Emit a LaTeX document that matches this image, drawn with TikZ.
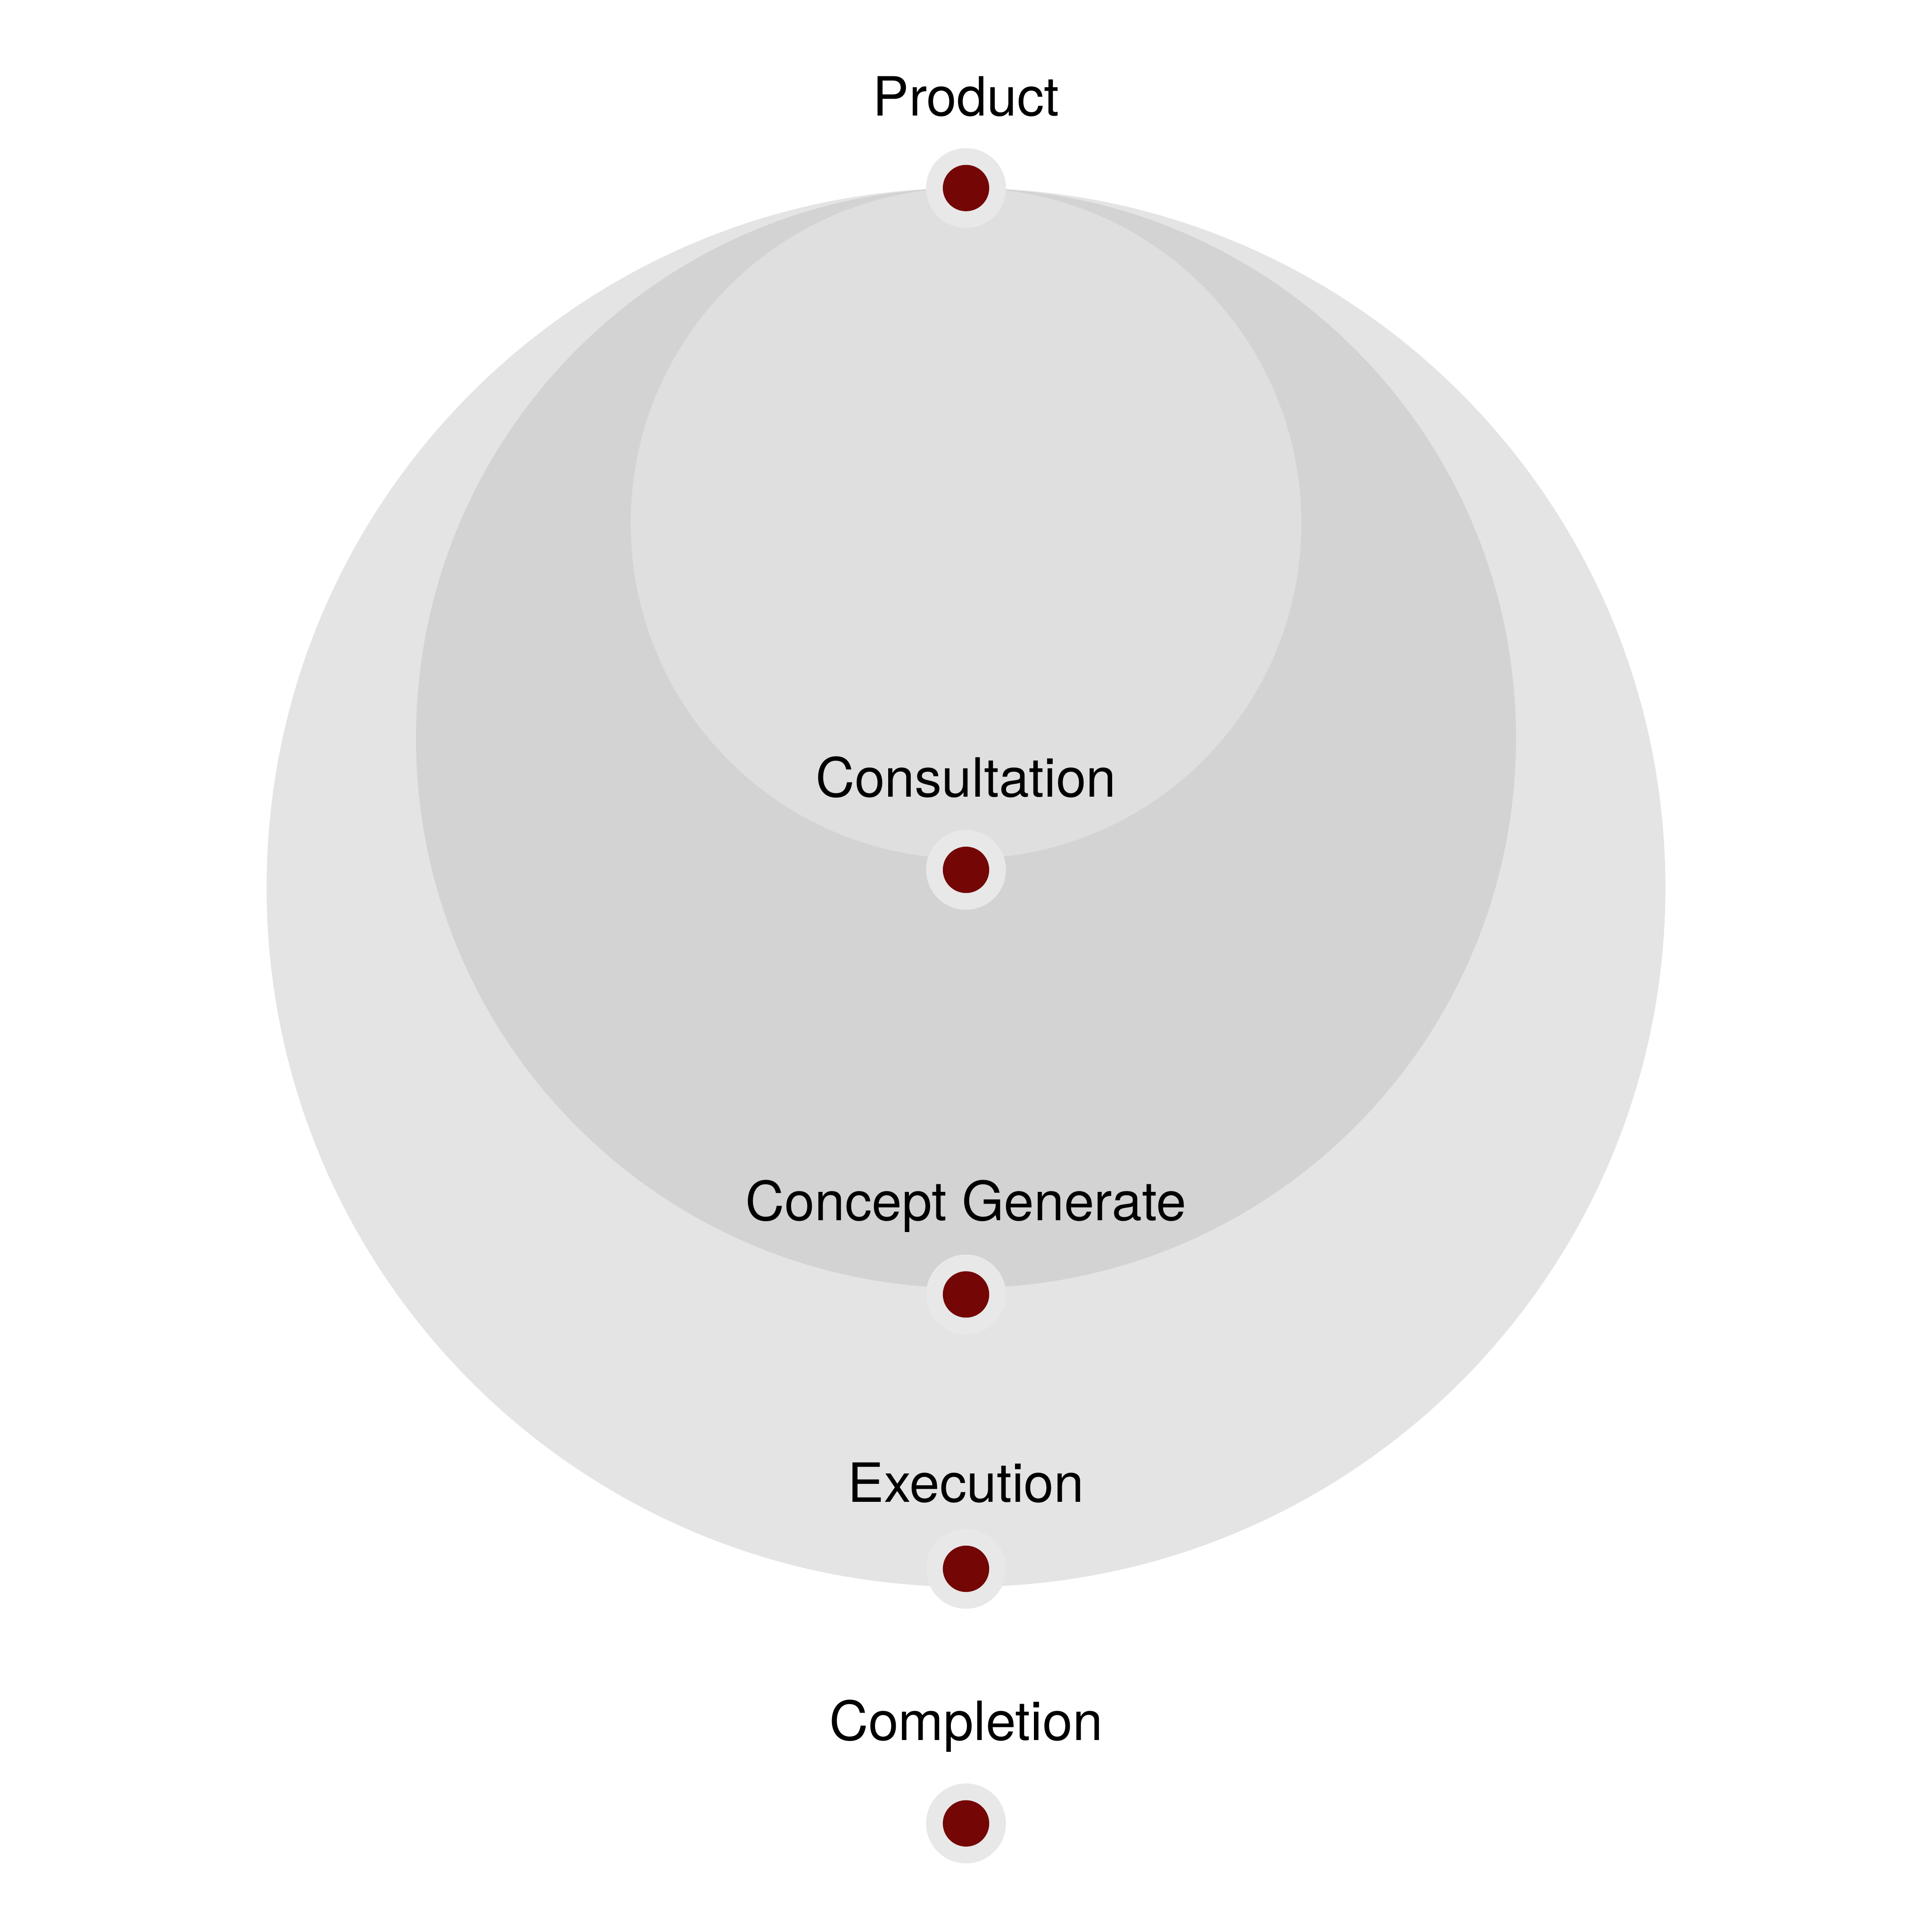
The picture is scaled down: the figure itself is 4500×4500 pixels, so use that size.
\documentclass[tikz,border=0pt]{standalone}
\usepackage{fontspec}
\setmainfont{TeX Gyre Heros}
\definecolor{ringA}{HTML}{E4E4E4}
\definecolor{ringB}{HTML}{D3D3D3}
\definecolor{ringC}{HTML}{DFDFDF}
\definecolor{halo}{HTML}{E8E8E8}
\definecolor{dotred}{HTML}{740606}
\tikzset{
  disc/.style={circle, inner sep=0pt, outer sep=0pt, draw=none},
  stagehalo/.style={disc, fill=halo, minimum size=186pt},
  stagedot/.style={disc, fill=dotred, minimum size=108pt},
  stagelabel/.style={anchor=base, inner sep=0pt, font=\fontsize{126}{150}\selectfont, text=black}
}
\begin{document}
\begin{tikzpicture}[x=1pt, y=-1pt]
\useasboundingbox (0,0) rectangle (4500,4500);
\fill[white] (0,0) rectangle (4500,4500);
% nested circles
\node[disc, fill=ringA, minimum size=3258pt] (big) at (2250,2067) {};
\node[disc, fill=ringB, minimum size=2562pt] (mid) at (2250,1719) {};
\node[disc, fill=ringC, minimum size=1562pt] (small) at (2250,1219) {};
% stage markers
\node[stagehalo] (h1) at (2250,438) {};
\node[stagedot] (d1) at (h1) {};
\node[stagehalo] (h2) at (2250,2026) {};
\node[stagedot] (d2) at (h2) {};
\node[stagehalo] (h3) at (2250,3015) {};
\node[stagedot] (d3) at (h3) {};
\node[stagehalo] (h4) at (2250,3654) {};
\node[stagedot] (d4) at (h4) {};
\node[stagehalo] (h5) at (2250,4247) {};
\node[stagedot] (d5) at (h5) {};
% labels
\node[stagelabel] (l1) at (2250,270) {Product};
\node[stagelabel] (l2) at (2250,1856) {Consultation};
\node[stagelabel] (l3) at (2250,2843) {Concept Generate};
\node[stagelabel] (l4) at (2250,3499) {Execution};
\node[stagelabel] (l5) at (2250,4053) {Completion};
\end{tikzpicture}
\end{document}
